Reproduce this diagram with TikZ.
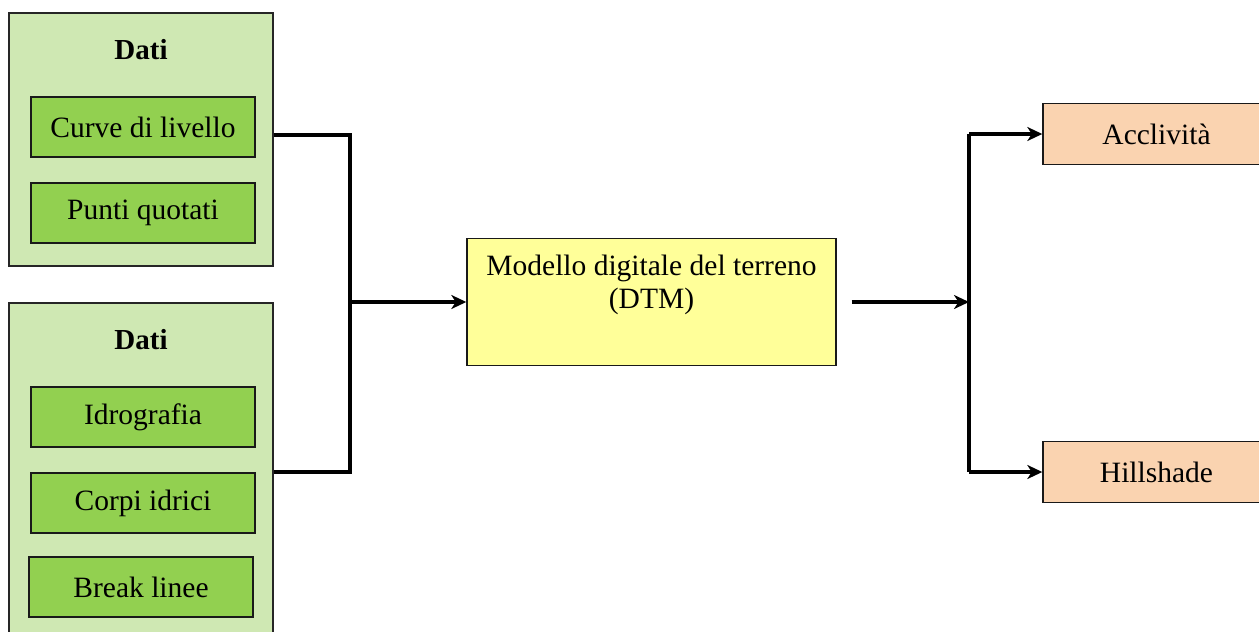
\documentclass[tikz,border=0pt]{standalone}
\usepackage{fontspec}
\setmainfont{Liberation Serif}
\usetikzlibrary{arrows.meta}
\definecolor{groupfill}{HTML}{CFE8B3}
\definecolor{itemfill}{HTML}{92D050}
\definecolor{dtmfill}{HTML}{FFFF99}
\definecolor{outfill}{HTML}{FAD3B0}
\tikzset{
  txt/.style={font=\fontsize{29.5}{33}\selectfont},
  group/.style={draw=black!85, line width=1.4pt, fill=groupfill, inner sep=0pt},
  grouptitle/.style={font=\fontsize{29}{33}\selectfont\bfseries},
  item/.style={txt, draw=black!90, line width=1.4pt, fill=itemfill,
    minimum width=224pt, minimum height=60pt, inner sep=0pt},
  dtmbox/.style={draw=black!90, line width=1.4pt, fill=dtmfill,
    minimum width=369pt, minimum height=127pt, inner sep=0pt},
  outbox/.style={txt, draw=black!90, line width=1.4pt, fill=outfill,
    minimum width=227pt, minimum height=61pt, inner sep=0pt},
  conn/.style={line width=4.5pt, line join=miter, draw=black},
  arr/.style={conn, -{Stealth[length=15pt, width=14pt, inset=4.5pt]}},
}
\begin{document}
\begin{tikzpicture}[x=1pt, y=-1pt]
  \useasboundingbox (0,0) rectangle (1259,632);

  % input groups
  \node[group, minimum width=264pt, minimum height=253pt] (g1) at (141,139.5) {};
  \node[group, minimum width=264pt, minimum height=357pt] (g2) at (141,481.5) {};

  \node[grouptitle] (t1) at (141,50) {Dati};
  \node[grouptitle] (t2) at (141,340) {Dati};

  \node[item] (curve) at (143,127) {Curve di livello};
  \node[item] (punti) at (143,213) {Punti quotati};
  \node[item] (idro)  at (143,417) {Idrografia};
  \node[item] (corpi) at (143,503) {Corpi idrici};
  \node[item] (brk)   at (141,587) {Break linee};

  % terrain model
  \node[dtmbox] (dtm) at (651.5,302) {};
  \node[txt, align=center] (dtmtext) at (651.5,285) {Modello digitale del terreno\\(DTM)};

  % products
  \node[outbox] (acc)  at (1156.5,134) {Acclività};
  \node[outbox] (hill) at (1156.5,472) {Hillshade};

  % junctions
  \coordinate (jin)  at (350,302);
  \coordinate (jout) at (969,302);

  % merging the two inputs
  \draw[conn] (g1.east |- 0,135) -| (jin |- 0,472) -- (g2.east |- 0,472);
  \draw[arr] (jin) -- (dtm.west);

  % splitting to the products
  \draw[arr] ([xshift=15pt]dtm.east) -- (jout);
  \draw[conn] (jout |- acc.west) -- (jout |- hill.west);
  \draw[arr] (jout |- acc.west) -- (acc.west);
  \draw[arr] (jout |- hill.west) -- (hill.west);
\end{tikzpicture}
\end{document}
